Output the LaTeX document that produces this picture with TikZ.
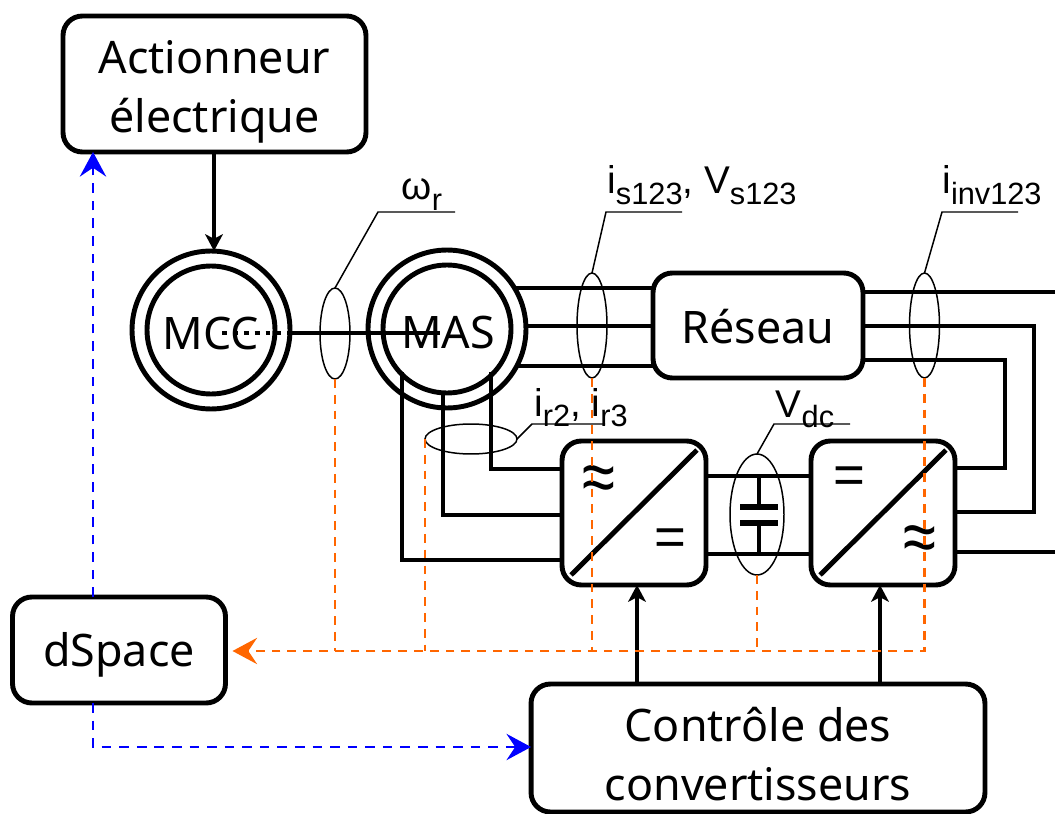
\documentclass[tikz,border=0pt]{standalone}
\usepackage{fontspec}
\setmainfont{Noto Sans}
\newfontfamily\arialfont{Liberation Sans}
\usetikzlibrary{shapes.geometric, arrows.meta, positioning, calc}
\definecolor{sensorange}{RGB}{255, 102, 0}
\definecolor{ctrlblue}{RGB}{0, 0, 255}
\newcommand{\subtxt}[1]{\raisebox{-0.28em}{\fontsize{17.5}{17.5}\selectfont #1}}

\begin{document}
\begin{tikzpicture}[
    x=0.02cm, y=-0.02cm,
    font=\fontsize{25.5}{33.5}\selectfont,
    block/.style={draw, line width=2.8pt, rounded corners=11pt, fill=white, outer sep=0pt},
    blocktxt/.style={align=center, inner sep=0pt},
    convbox/.style={block, minimum width=2.88cm, minimum height=2.88cm},
    ring/.style={draw, line width=2.8pt, circle, fill=white, inner sep=0pt, outer sep=0pt},
    wire/.style={line width=2.8pt},
    drive/.style={line width=2.8pt, -{Stealth[length=9.5pt, width=10pt, inset=2.5pt]}},
    probe/.style={draw, ellipse, line width=0.85pt, inner sep=0pt, outer sep=0pt},
    leader/.style={line width=0.85pt},
    sense/.style={sensorange, line width=1.2pt, dash pattern=on 5pt off 4pt},
    ctrl/.style={ctrlblue, line width=1.2pt, dash pattern=on 5.5pt off 4.5pt},
    bigtip/.style={-{Stealth[length=14pt, width=15pt, inset=5pt]}},
    meas/.style={font=\arialfont\fontsize{22}{24}\selectfont, anchor=base, inner sep=0pt},
    acsym/.style={font=\arialfont\fontsize{34}{34}\selectfont, inner sep=0pt},
    dcsym/.style={font=\arialfont\fontsize{31}{31}\selectfont, inner sep=0pt},
]
\useasboundingbox (0,0) rectangle (1055,814);

% --- Blocks ---
\node[block, minimum width=6.06cm, minimum height=2.72cm] (actionneur) at (214.5,84) {};
\node[block, minimum width=4.26cm, minimum height=2.12cm] (dspace) at (119,650) {};
\node[block, minimum width=9.08cm, minimum height=2.56cm] (controle) at (758,748) {};
\node[block, minimum width=4.2cm, minimum height=2.1cm] (reseau) at (758,325.5) {};
\node[blocktxt] (actionneurtxt) at (214.5,92) {Actionneur\\électrique};
\node[blocktxt] (dspacetxt) at (119,655) {dSpace};
\node[blocktxt] (controletxt) at (758,754) {Contrôle des\\convertisseurs};
\node[blocktxt] (reseautxt) at (758,327) {Réseau};

% --- Machines (outer ring, then inner ring) ---
\node[ring, minimum size=3.16cm] (mccout) at (211,330) {};
\node[ring, minimum size=2.56cm] (mcc) at (211,330) {};
\node[ring, minimum size=3.16cm] (masout) at (447,329) {};
\node[blocktxt] (mcctxt) at (211,334) {MCC};

% --- Stator wires, machine to grid ---
\coordinate (stator1) at (516,288);
\coordinate (stator2) at (526,326);
\coordinate (stator3) at (516,366);
\draw[wire] (stator1) -- (reseau.west |- stator1);
\draw[wire] (stator2) -- (reseau.west |- stator2);
\draw[wire] (stator3) -- (reseau.west |- stator3);

% --- Converters and DC link ---
\node[convbox] (redresseur) at (634,513) {};
\node[convbox] (onduleur) at (883,513) {};
\draw[wire] (redresseur.south west)+(9,-10) -- ($(redresseur.north east)+(-9,9)$);
\draw[wire] (onduleur.south west)+(9,-10) -- ($(onduleur.north east)+(-9,9)$);
\coordinate (dctop) at (759,476);
\coordinate (dcbot) at (759,554);
\coordinate (plate1) at (759,507);
\coordinate (plate2) at (759,523);
\draw[wire] (redresseur.east |- dctop) -- (onduleur.west |- dctop);
\draw[wire] (redresseur.east |- dcbot) -- (onduleur.west |- dcbot);
\draw[wire] (dctop) -- (plate1);
\draw[wire] (plate2) -- (dcbot);
\draw[wire, line width=3pt] ($(plate1)+(-19,0)$) -- ($(plate1)+(19,0)$);
\draw[wire, line width=3pt] ($(plate2)+(-19,0)$) -- ($(plate2)+(19,0)$);
\node[acsym] (symac1) at (599,484) {\scalebox{1}[1.25]{≈}};
\node[dcsym] (symdc1) at (670,542) {=};
\node[dcsym] (symdc2) at (849,480) {=};
\node[acsym] (symac2) at (920,544) {\scalebox{1}[1.25]{≈}};

% --- Rotor wires ---
\coordinate (rotor1) at (402,372);
\coordinate (rotor2) at (443,392);
\coordinate (rotor3) at (491,372);
\draw[wire] (rotor1) |- (redresseur.west |- 0,560);
\draw[wire] (rotor2) |- (redresseur.west |- 0,515);
\draw[wire] (rotor3) |- (redresseur.west |- 0,469);
\node[ring, minimum size=2.56cm, fill=none] (mas) at (447,329) {};
\node[blocktxt] (mastxt) at (448,333) {MAS};

% --- Grid and inverter wires, running off the right edge ---
\coordinate (edge1) at (1055,292);
\coordinate (edge2) at (1055,552);
\coordinate (bend1) at (1034,326);
\coordinate (bend2) at (1005,360);
\draw[wire] (reseau.east |- edge1) -- (edge1);
\draw[wire] (reseau.east |- bend1) -- (bend1) |- (onduleur.east |- 0,512);
\draw[wire] (reseau.east |- bend2) -- (bend2) |- (onduleur.east |- 0,468);
\draw[wire] (onduleur.east |- edge2) -- (edge2);

% --- Shaft ---
\coordinate (shaftend) at (440,333);
\coordinate (shaftmid) at (292,333);
\coordinate (shaftin) at (222,333);
\draw[wire] (shaftmid) -- (shaftend);
\draw[wire, dash pattern=on 2.8pt off 3.4pt] (shaftin) -- (shaftmid);

% --- Drive arrows ---
\draw[drive] (actionneur.south -| 214,0) -- (mccout.north -| 214,0);
\draw[drive] (controle.north -| 637,0) -- (redresseur.south -| 637,0);
\draw[drive] (controle.north -| 880,0) -- (onduleur.south -| 880,0);

% --- Measurement rings ---
\node[probe, minimum width=0.6cm, minimum height=1.82cm] (wrprobe) at (335,333.5) {};
\node[probe, minimum width=1.84cm, minimum height=0.6cm] (irprobe) at (471,439) {};
\node[probe, minimum width=0.6cm, minimum height=2.1cm] (isprobe) at (592,325.5) {};
\node[probe, minimum width=0.6cm, minimum height=2.1cm] (invprobe) at (924.5,325.5) {};
\node[probe, minimum width=1.08cm, minimum height=2.42cm] (dcprobe) at (757,514.5) {};

% --- Leaders and their labels ---
\draw[leader] (wrprobe.north) -- (378,212) -- (455,212);
\draw[leader] (irprobe.east) -- (532,424) -- (605,424);
\draw[leader] (isprobe.north) -- (606,212) -- (682,212);
\draw[leader] (invprobe.north) -- (942,212) -- (1018,212);
\draw[leader] (dcprobe.north) -- (774,424) -- (850,424);
\node[meas] (wrlabel) at (422,200) {ω\subtxt{r}};
\node[meas] (irlabel) at (581,416) {i\subtxt{r2}, i\subtxt{r3}};
\node[meas] (islabel) at (702,194) {i\subtxt{s123}, V\subtxt{s123}};
\node[meas] (invlabel) at (992,194) {i\subtxt{inv123}};
\node[meas] (dclabel) at (805,417) {V\subtxt{dc}};

% --- Signals to dSpace (orange) ---
\coordinate (busend) at (924.5,651);
\draw[sense, bigtip, shorten >=4pt] (invprobe.south) |- (dspace.east |- busend);
\draw[sense] (wrprobe.south) -- (wrprobe.south |- busend);
\draw[sense] (irprobe.west) -- (irprobe.west |- busend);
\draw[sense] (isprobe.south) -- (isprobe.south |- busend);
\draw[sense] (dcprobe.south) -- (dcprobe.south |- busend);

% --- dSpace outputs (blue) ---
\coordinate (ctrlbend) at (93,747);
\draw[ctrl, bigtip] (dspace.north -| ctrlbend) -- (actionneur.south -| ctrlbend);
\draw[ctrl, bigtip] (dspace.south -| ctrlbend) -- (ctrlbend) -- (controle.west |- ctrlbend);

\end{tikzpicture}
\end{document}
